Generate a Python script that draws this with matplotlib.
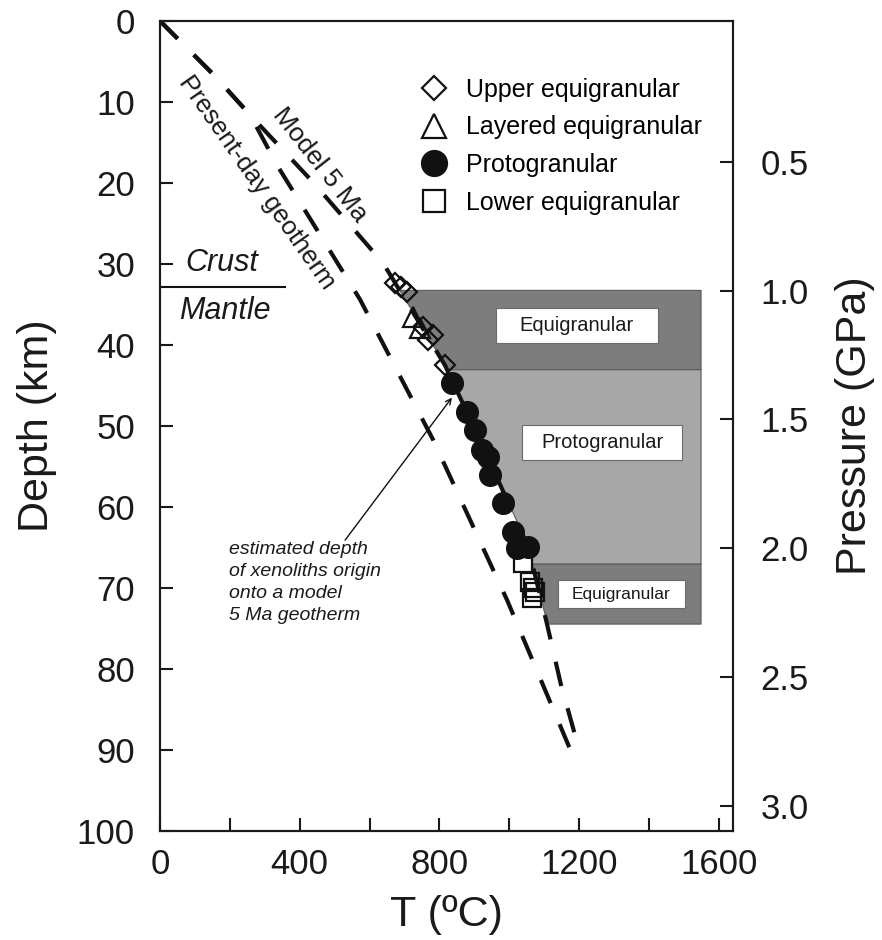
import numpy as np
import matplotlib.pyplot as plt
from matplotlib.patches import Rectangle
from matplotlib.lines import Line2D

plt.rcParams['font.family'] = ['Liberation Sans', 'DejaVu Sans']

# geotherms: temperature (C) vs depth (km)
model_T = [0, 155, 258, 438, 639, 816, 916, 1054, 1108, 1148, 1194]
model_depth = [0, 6.7, 11.6, 19.9, 29.9, 42.5, 51.7, 64.9, 74.4, 81.9, 89.0]
present_T = [0, 155, 258, 338, 573, 782, 994, 1194]
present_depth = [0, 6.7, 11.6, 18.0, 34.4, 51.7, 71.5, 91.9]

# xenolith equilibration estimates
upper_T = [673, 690, 707, 753, 767, 782, 816]
upper_depth = [32.3, 32.8, 33.5, 37.8, 39.4, 38.8, 42.5]
layered_T = [724, 745]
layered_depth = [36.5, 37.9]
proto_T = [836, 879, 902, 922, 939, 945, 982, 1011, 1022, 1054]
proto_depth = [44.7, 48.3, 50.5, 53.0, 53.8, 56.0, 59.5, 63.1, 65.1, 64.9]
lower_T = [1039, 1060, 1068, 1074, 1065]
lower_depth = [66.9, 69.3, 70.0, 70.5, 71.2]

# texture zones (depth ranges, km) bounded by the 5 Ma geotherm and T_zone_max
zone_tops = [33.2, 43.0, 67.0]
zone_bottoms = [43.0, 67.0, 74.4]
zone_names = ['Equigranular', 'Protogranular', 'Equigranular']
T_zone_max = 1548

moho_depth = 32.8
km_per_gpa = 31.8
depth_at_zero_p = 1.5

fig = plt.figure(figsize=(8.82, 9.4), dpi=100)
ax = fig.add_axes([0.1814, 0.1160, 0.6493, 0.8617])

zone_colors = ['#7d7d7d', '#a7a7a7', '#7d7d7d']
for top, bot, col in zip(zone_tops, zone_bottoms, zone_colors):
    yy = np.linspace(top, bot, 40)
    xl = np.interp(yy, model_depth, model_T)
    ax.fill_betweenx(yy, xl, T_zone_max, facecolor=col, edgecolor='#5a5a5a',
                     lw=0.8, zorder=1)

# white label boxes inside zones
label_boxes = [(962, 35.4, 464, 4.4, 14.5), (1037, 49.9, 458, 4.3, 14.5),
               (1140, 69.0, 363, 3.5, 12.5)]
for (x0, y0, w, h, fs), name in zip(label_boxes, zone_names):
    ax.add_patch(Rectangle((x0, y0), w, h, facecolor='white',
                           edgecolor='#6a6a6a', lw=0.8, zorder=2))
    ax.text(x0 + w / 2, y0 + h / 2, name, ha='center', va='center',
            fontsize=fs, color='#1a1a1a', zorder=3)

ax.plot(present_T, present_depth, color='#111111', lw=3, dashes=(6, 5.5),
        dash_capstyle='butt', zorder=4)
ax.plot(model_T, model_depth, color='#111111', lw=3, dashes=(6, 5.5),
        dash_capstyle='butt', zorder=4)

mk = dict(linestyle='none', markeredgecolor='#111111', markeredgewidth=1.6,
          zorder=5)
ax.plot(upper_T, upper_depth, marker='D', markersize=10,
        markerfacecolor='none', **mk)
ax.plot(layered_T, layered_depth, marker='^', markersize=14,
        markerfacecolor='none', **mk)
ax.plot(proto_T, proto_depth, marker='o', markersize=15,
        markerfacecolor='#111111', **mk)
ax.plot(lower_T, lower_depth, marker='s', markersize=13,
        markerfacecolor='none', **mk)

# crust / mantle boundary
ax.plot([0, 358], [moho_depth, moho_depth], color='#111111', lw=1.5, zorder=4)
ax.text(178, 29.9, 'Crust', fontsize=22, style='italic', ha='center',
        va='center', color='#1a1a1a')
ax.text(186, 35.8, 'Mantle', fontsize=22, style='italic', ha='center',
        va='center', color='#1a1a1a')

ax.text(458, 17.8, 'Model 5 Ma', fontsize=19, rotation=-52, ha='center',
        va='center', rotation_mode='anchor', color='#1a1a1a')
ax.text(278, 19.9, 'Present-day geotherm', fontsize=18.5, rotation=-55,
        ha='center', va='center', rotation_mode='anchor', color='#1a1a1a')

ax.annotate('', xy=(836, 46.5), xytext=(530, 64.1),
            arrowprops=dict(arrowstyle='->', lw=1, color='#111111',
                            shrinkA=0, shrinkB=0), zorder=6)
ax.text(198, 64.2, 'estimated depth\nof xenoliths origin\nonto a model\n5 Ma geotherm',
        fontsize=14, style='italic', ha='left', va='top', linespacing=1.38,
        color='#1a1a1a')

handles = [
    Line2D([], [], marker='D', markersize=10, markerfacecolor='none', **mk),
    Line2D([], [], marker='^', markersize=14, markerfacecolor='none', **mk),
    Line2D([], [], marker='o', markersize=15, markerfacecolor='#111111', **mk),
    Line2D([], [], marker='s', markersize=13, markerfacecolor='none', **mk),
]
labels = ['Upper equigranular', 'Layered equigranular', 'Protogranular',
          'Lower equigranular']
ax.legend(handles, labels, loc='upper left', bbox_to_anchor=(0.456, 0.93),
          frameon=False, fontsize=18, handlelength=1.0, handletextpad=0.8,
          labelspacing=0.55, borderpad=0, borderaxespad=0, markerscale=1.2)

ax.set_xlim(0, 1640)
ax.set_ylim(100, 0)
ax.set_xticks(range(0, 1601, 200))
ax.set_xticklabels([str(v) if v % 400 == 0 else '' for v in range(0, 1601, 200)])
ax.set_yticks(range(0, 101, 10))
ax.tick_params(direction='in', length=9.5, width=1.5, labelsize=25,
               colors='#1a1a1a')
ax.tick_params(axis='x', pad=12)
ax.tick_params(axis='y', pad=18)
ax.set_xlabel('T (ºC)', fontsize=31, color='#1a1a1a', labelpad=10)
ax.set_ylabel('Depth (km)', fontsize=31, color='#1a1a1a', labelpad=14)
for s in ax.spines.values():
    s.set_linewidth(1.5)
    s.set_color('#1a1a1a')

# pressure axis from depth
ax2 = ax.twinx()
ax2.set_ylim((100 - depth_at_zero_p) / km_per_gpa, -depth_at_zero_p / km_per_gpa)
ax2.set_yticks([0.5, 1.0, 1.5, 2.0, 2.5, 3.0])
ax2.set_yticklabels(['0.5', '1.0', '1.5', '2.0', '2.5', '3.0'])
ax2.tick_params(direction='in', length=9.5, width=1.5, labelsize=25, pad=20,
                colors='#1a1a1a')
ax2.set_ylabel('Pressure (GPa)', fontsize=31, color='#1a1a1a', labelpad=19)
for s in ax2.spines.values():
    s.set_linewidth(1.5)
    s.set_color('#1a1a1a')

fig.savefig('out.png', dpi=100)
